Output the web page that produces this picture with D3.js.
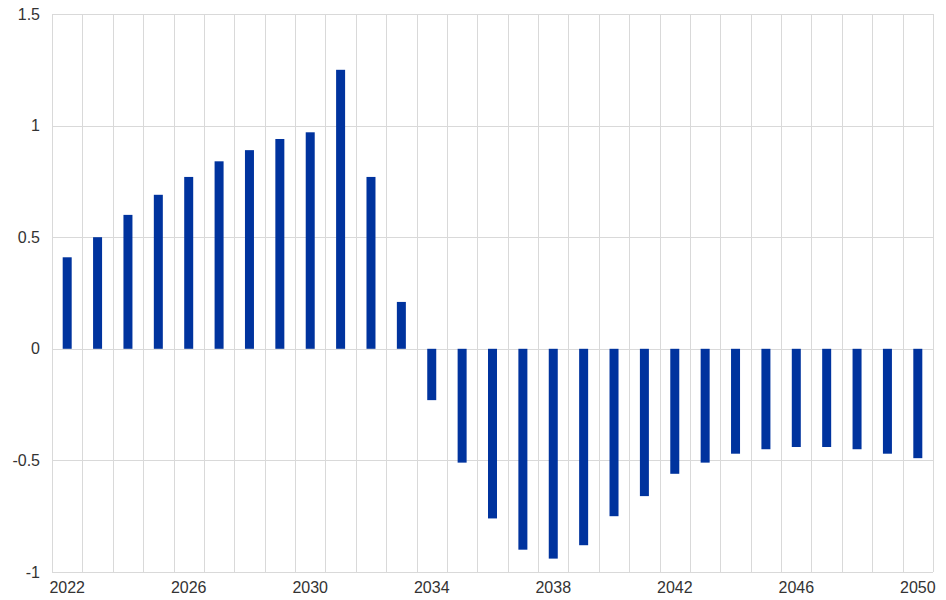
<!DOCTYPE html>
<html>
<head>
<meta charset="utf-8">
<script src="https://cdn.jsdelivr.net/npm/d3@7"></script>
<style>
  body { margin: 0; background: #fff; }
  text { font-family: "Liberation Sans", Arial, sans-serif; }
</style>
</head>
<body>
<div id="chart"></div>
<script>
// data
var years = [2022, 2023, 2024, 2025, 2026, 2027, 2028, 2029, 2030, 2031,
             2032, 2033, 2034, 2035, 2036, 2037, 2038, 2039, 2040, 2041,
             2042, 2043, 2044, 2045, 2046, 2047, 2048, 2049, 2050];
var values = [0.41, 0.50, 0.60, 0.69, 0.77, 0.84, 0.89, 0.94, 0.97, 1.25,
              0.77, 0.21, -0.23, -0.51, -0.76, -0.90, -0.94, -0.88, -0.75, -0.66,
              -0.56, -0.51, -0.47, -0.45, -0.44, -0.44, -0.45, -0.47, -0.49];
var yTicks = [-1, -0.5, 0, 0.5, 1, 1.5];
var xLabels = [2022, 2026, 2030, 2034, 2038, 2042, 2046, 2050];

var data = years.map(function(y, i) { return {year: y, value: values[i]}; });

var margin = {top: 14, right: 13, bottom: 28, left: 52},
    width = 946 - margin.left - margin.right,
    height = 600 - margin.top - margin.bottom;

var svg = d3.select("#chart").append("svg")
    .attr("width", 946)
    .attr("height", 600)
  .append("g")
    .attr("transform", "translate(" + margin.left + "," + margin.top + ")");

var x = d3.scaleBand()
    .domain(years)
    .range([0, width])
    .paddingInner(0)
    .paddingOuter(0);

var y = d3.scaleLinear()
    .domain([-1, 1.5])
    .range([height, 0]);

// horizontal grid
svg.append("g")
    .selectAll("line")
    .data(yTicks)
    .enter().append("line")
    .attr("x1", 0)
    .attr("x2", width)
    .attr("y1", function(d) { return Math.round(y(d)) + 0.5; })
    .attr("y2", function(d) { return Math.round(y(d)) + 0.5; })
    .attr("stroke", "#d9d9d9")
    .attr("stroke-width", 1);

// vertical grid at band boundaries
var bounds = years.map(function(d) { return x(d); }).concat([width]);
svg.append("g")
    .selectAll("line")
    .data(bounds)
    .enter().append("line")
    .attr("x1", function(d) { return Math.round(d) + 0.5; })
    .attr("x2", function(d) { return Math.round(d) + 0.5; })
    .attr("y1", 0)
    .attr("y2", height)
    .attr("stroke", "#d9d9d9")
    .attr("stroke-width", 1);

// bars
var barW = 9;
svg.selectAll(".bar")
    .data(data)
    .enter().append("rect")
    .attr("class", "bar")
    .attr("x", function(d) { return x(d.year) + x.bandwidth() / 2 - barW / 2; })
    .attr("width", barW)
    .attr("y", function(d) { return y(Math.max(0, d.value)); })
    .attr("height", function(d) { return Math.abs(y(d.value) - y(0)); })
    .attr("fill", "#00339e");

// y axis labels
var yAxis = svg.append("g")
    .call(d3.axisLeft(y).tickValues(yTicks).tickSize(0).tickPadding(12)
        .tickFormat(function(d) { return String(d); }));
yAxis.select(".domain").remove();
yAxis.selectAll("text")
    .attr("font-size", "16px")
    .attr("fill", "#333");

// x axis labels
var xAxis = svg.append("g")
    .attr("transform", "translate(0," + height + ")")
    .call(d3.axisBottom(x).tickValues(xLabels).tickSize(0).tickPadding(10));
xAxis.select(".domain").remove();
xAxis.selectAll("text")
    .attr("font-size", "16px")
    .attr("fill", "#333");
</script>
</body>
</html>
